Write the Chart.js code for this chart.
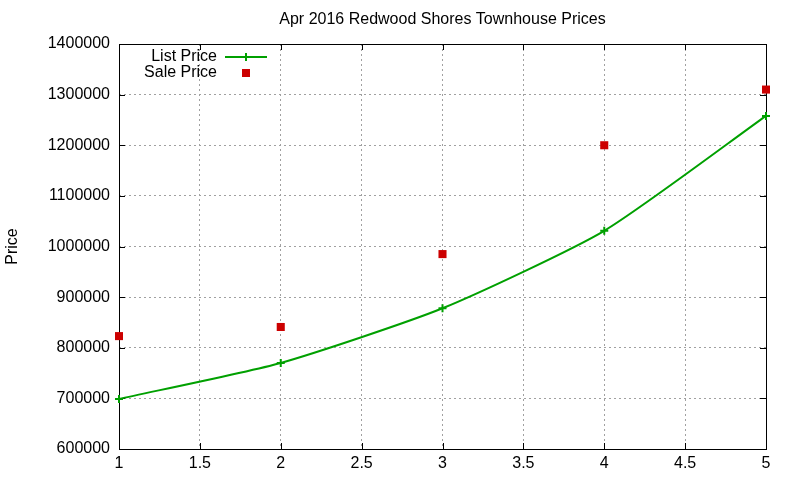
<!DOCTYPE html>
<html>
<head>
<meta charset="utf-8">
<script src="https://cdn.jsdelivr.net/npm/chart.js@4"></script>
<style>
  html, body { margin: 0; padding: 0; background: #fff; }
  #wrap { width: 800px; height: 480px; }
</style>
</head>
<body>
<div id="wrap"><canvas id="priceChart" width="800" height="480"></canvas></div>
<script>
// Data
const months = [1, 2, 3, 4, 5];
const listPrice = [699000, 770000, 878000, 1031000, 1258000];
const salePrice = [823000, 841000, 985000, 1200000, 1310000];
const xTicks = [1, 1.5, 2, 2.5, 3, 3.5, 4, 4.5, 5];
const yTicks = [600000, 700000, 800000, 900000, 1000000, 1100000, 1200000, 1300000, 1400000];
const chartTitle = 'Apr 2016 Redwood Shores Townhouse Prices';

const GREEN = '#00a000';
const RED = '#cc0000';
const FONT = 'Liberation Sans, Arial, sans-serif';

// gnuplot-like frame: full border + inward ticks on all four sides, title over the plot
const framePlugin = {
    id: 'frame',
    beforeDatasetsDraw(chart) {
        const { ctx, chartArea: a, scales } = chart;
        ctx.save();
        ctx.strokeStyle = '#000';
        ctx.lineWidth = 1;
        ctx.strokeRect(a.left + 0.5, a.top + 0.5, a.right - a.left, a.bottom - a.top);
        ctx.beginPath();
        xTicks.forEach(v => {
            const px = Math.round(scales.x.getPixelForValue(v)) + 0.5;
            ctx.moveTo(px, a.bottom); ctx.lineTo(px, a.bottom - 6);
            ctx.moveTo(px, a.top); ctx.lineTo(px, a.top + 6);
        });
        yTicks.forEach(v => {
            const py = Math.round(scales.y.getPixelForValue(v)) + 0.5;
            ctx.moveTo(a.left, py); ctx.lineTo(a.left + 6, py);
            ctx.moveTo(a.right, py); ctx.lineTo(a.right - 6, py);
        });
        ctx.stroke();

        ctx.font = '16px ' + FONT;
        ctx.fillStyle = '#000';
        ctx.textAlign = 'center';
        ctx.textBaseline = 'middle';
        ctx.fillText(chartTitle, (a.left + a.right) / 2, 20);
        ctx.restore();
    }
};

// legend in the top-left corner, text right-aligned with the sample on its right
const keyPlugin = {
    id: 'key',
    afterDraw(chart) {
        const { ctx, chartArea: a } = chart;
        const textRight = a.left + 98;
        const sx0 = a.left + 106, sx1 = a.left + 148, sxm = (sx0 + sx1) / 2;
        const y1 = a.top + 13, y2 = a.top + 29;
        ctx.save();
        ctx.font = '16px ' + FONT;
        ctx.fillStyle = '#000';
        ctx.textAlign = 'right';
        ctx.textBaseline = 'middle';
        ctx.fillText('List Price', textRight, y1);
        ctx.fillText('Sale Price', textRight, y2);
        ctx.strokeStyle = GREEN;
        ctx.lineWidth = 2;
        ctx.beginPath();
        ctx.moveTo(sx0, y1); ctx.lineTo(sx1, y1);
        ctx.moveTo(sxm, y1 - 4); ctx.lineTo(sxm, y1 + 4);
        ctx.stroke();
        ctx.fillStyle = RED;
        ctx.fillRect(sxm - 4, y2 - 4, 8, 8);
        ctx.restore();
    }
};

new Chart(document.getElementById('priceChart'), {
    type: 'line',
    data: {
        datasets: [
            {
                label: 'List Price',
                data: months.map((m, i) => ({ x: m, y: listPrice[i] })),
                borderColor: GREEN,
                backgroundColor: GREEN,
                borderWidth: 2,
                pointStyle: 'cross',
                pointRadius: 4,
                pointBorderWidth: 2,
                tension: 0.2,
                clip: false,
                fill: false
            },
            {
                label: 'Sale Price',
                data: months.map((m, i) => ({ x: m, y: salePrice[i] })),
                showLine: false,
                borderColor: RED,
                backgroundColor: RED,
                pointStyle: 'rect',
                pointRadius: 5.7,
                pointBorderWidth: 0,
                clip: false
            }
        ]
    },
    options: {
        responsive: false,
        animation: false,
        layout: { padding: { top: 44, right: 34, bottom: 0, left: 0 } },
        plugins: {
            legend: { display: false },
            tooltip: { enabled: false },
            title: { display: false }
        },
        scales: {
            x: {
                type: 'linear',
                min: 1,
                max: 5,
                afterBuildTicks: s => { s.ticks = xTicks.map(v => ({ value: v })); },
                afterFit: s => { s.height = 31; },
                ticks: {
                    color: '#000',
                    font: { family: FONT, size: 16 },
                    padding: 5,
                    maxRotation: 0,
                    callback: v => String(v)
                },
                grid: { color: '#a0a0a0', drawTicks: false },
                border: { display: false, dash: [2, 3] }
            },
            y: {
                min: 600000,
                max: 1400000,
                afterBuildTicks: s => { s.ticks = yTicks.map(v => ({ value: v })); },
                afterFit: s => { s.width = 119; },
                ticks: {
                    color: '#000',
                    font: { family: FONT, size: 16 },
                    padding: 9,
                    callback: v => String(v)
                },
                title: {
                    display: true,
                    text: 'Price',
                    color: '#000',
                    font: { family: FONT, size: 16 },
                    padding: { top: 3, bottom: 0 }
                },
                grid: { color: '#a0a0a0', drawTicks: false },
                border: { display: false, dash: [2, 3] }
            }
        }
    },
    plugins: [framePlugin, keyPlugin]
});
</script>
</body>
</html>
